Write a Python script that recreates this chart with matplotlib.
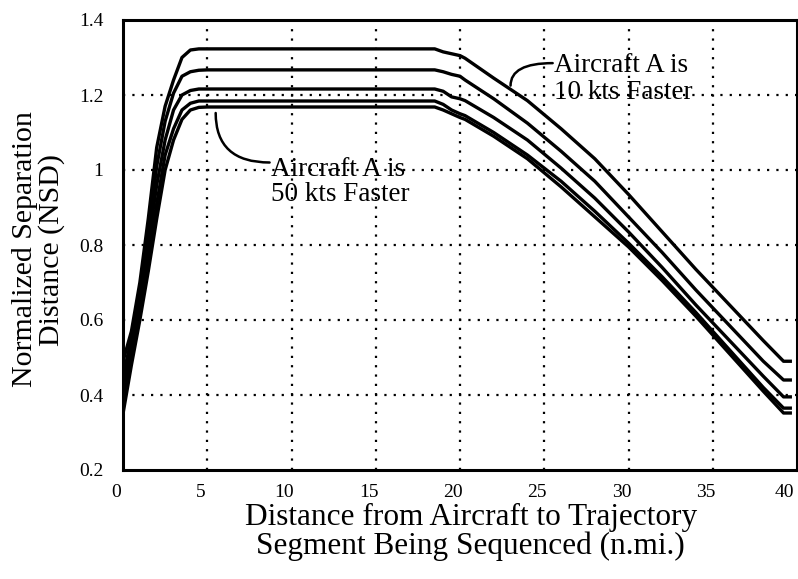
import matplotlib
matplotlib.use("Agg")
import matplotlib.pyplot as plt
import matplotlib.transforms as mtransforms

plt.rcParams['font.family'] = ['Liberation Serif', 'DejaVu Serif']

# distance (n.mi.) sample points
dist = [0, 0.5, 1.0, 1.5, 2.0, 2.5, 3.0, 3.5, 4.0, 4.5, 5.0, 10.0, 15.0,
        18.5, 19, 19.5, 20, 20.3, 22, 24, 26, 28, 30, 32, 34, 36, 38, 39.2, 39.7]

# NSD for each speed difference (Aircraft A faster by ...)
nsd_10kts = [0.49, 0.57, 0.70, 0.87, 1.06, 1.17, 1.24, 1.30, 1.32, 1.323, 1.323, 1.323, 1.323,
             1.323, 1.315, 1.31, 1.305, 1.298, 1.245, 1.185, 1.11, 1.03, 0.935, 0.835, 0.735, 0.64, 0.545, 0.49, 0.49]
nsd_20kts = [0.45, 0.55, 0.68, 0.83, 1.01, 1.13, 1.205, 1.25, 1.262, 1.266, 1.267, 1.267, 1.267,
             1.267, 1.262, 1.255, 1.25, 1.24, 1.19, 1.125, 1.05, 0.97, 0.875, 0.78, 0.68, 0.585, 0.49, 0.44, 0.44]
nsd_30kts = [0.42, 0.52, 0.65, 0.80, 0.96, 1.08, 1.16, 1.20, 1.212, 1.216, 1.216, 1.216, 1.216,
             1.216, 1.21, 1.195, 1.19, 1.185, 1.14, 1.08, 1.005, 0.925, 0.835, 0.74, 0.64, 0.545, 0.45, 0.395, 0.395]
nsd_40kts = [0.38, 0.50, 0.62, 0.76, 0.91, 1.04, 1.11, 1.16, 1.178, 1.184, 1.184, 1.184, 1.184,
             1.184, 1.175, 1.16, 1.15, 1.145, 1.10, 1.04, 0.97, 0.89, 0.805, 0.715, 0.62, 0.52, 0.42, 0.365, 0.365]
nsd_50kts = [0.35, 0.48, 0.60, 0.73, 0.87, 1.00, 1.08, 1.135, 1.16, 1.167, 1.168, 1.168, 1.168,
             1.168, 1.16, 1.15, 1.14, 1.135, 1.09, 1.03, 0.955, 0.875, 0.795, 0.705, 0.61, 0.51, 0.41, 0.352, 0.352]

xticks = [0, 5, 10, 15, 20, 25, 30, 35, 40]
xtick_labels = ['0', '5', '10', '15', '20', '25', '30', '35', '40']
yticks = [0.2, 0.4, 0.6, 0.8, 1.0, 1.2, 1.4]
ytick_labels = ['0.2', '0.4', '0.6', '0.8', '1', '1.2', '1.4']

fig = plt.figure(figsize=(7.98, 5.79), dpi=100)
ax = fig.add_axes([123/798, 109/579, 674/798, 450/579])

for series in [nsd_10kts, nsd_20kts, nsd_30kts, nsd_40kts, nsd_50kts]:
    ax.plot(dist, series, color='black', lw=2.4, solid_joinstyle='round',
            solid_capstyle='butt', zorder=3)

ax.set_xlim(0, 40)
ax.set_ylim(0.2, 1.4)
ax.set_xticks(xticks)
ax.set_xticklabels([])
ax.set_yticks(yticks)
ax.set_yticklabels(ytick_labels)
ax.tick_params(length=0, labelsize=14)
ax.tick_params(axis='y', pad=14)

# x tick labels, drawn slightly left of their gridlines as in the reference
xtrans = ax.get_xaxis_transform() + mtransforms.ScaledTranslation(-7/100, -14/100, fig.dpi_scale_trans)
for i, (v, lab) in enumerate(zip(xticks, xtick_labels)):
    if i == len(xticks) - 1:
        t = ax.get_xaxis_transform() + mtransforms.ScaledTranslation(-3/100, -14/100, fig.dpi_scale_trans)
        ax.text(v, 0, lab, transform=t, ha='right', va='top', fontsize=14)
    else:
        ax.text(v, 0, lab, transform=xtrans, ha='center', va='top', fontsize=14)

for v in xticks[1:-1]:
    ax.axvline(v, color='black', lw=1.6, linestyle=(0, (1, 3.2)), zorder=1)
for v in yticks[1:-1]:
    ax.axhline(v, color='black', lw=1.6, linestyle=(0, (1, 3.2)), zorder=1)

for s in ax.spines.values():
    s.set_linewidth(2.2)

ax.set_xlabel("Distance from Aircraft to Trajectory\nSegment Being Sequenced (n.mi.)",
              fontsize=22.5, linespacing=0.98)
ax.xaxis.set_label_coords(0.516, -0.137)
ax.xaxis.label.set_va('center')
ax.set_ylabel("Normalized Separation\nDistance (NSD)", fontsize=21.5, linespacing=0.98)
ax.yaxis.set_label_coords(-0.125, 0.49)
ax.yaxis.label.set_va('center')

# annotations
ax.text(25.6, 1.243, "Aircraft A is\n10 kts Faster", fontsize=19.5, ha='left', va='center',
        linespacing=1.1, zorder=4)
ax.annotate('', xy=(23.0, 1.225), xytext=(25.5, 1.285),
            arrowprops=dict(arrowstyle='-', lw=1.8, color='black', shrinkA=0, shrinkB=0,
                            connectionstyle='angle3,angleA=0,angleB=90'))
ax.text(8.8, 0.968, "Aircraft A is\n50 kts Faster", fontsize=19.5, ha='left', va='center',
        linespacing=1.0, zorder=4)
ax.annotate('', xy=(5.5, 1.152), xytext=(8.7, 1.02),
            arrowprops=dict(arrowstyle='-', lw=1.8, color='black', shrinkA=0, shrinkB=0,
                            connectionstyle='angle3,angleA=0,angleB=90'))

fig.savefig('out.png', dpi=100)
